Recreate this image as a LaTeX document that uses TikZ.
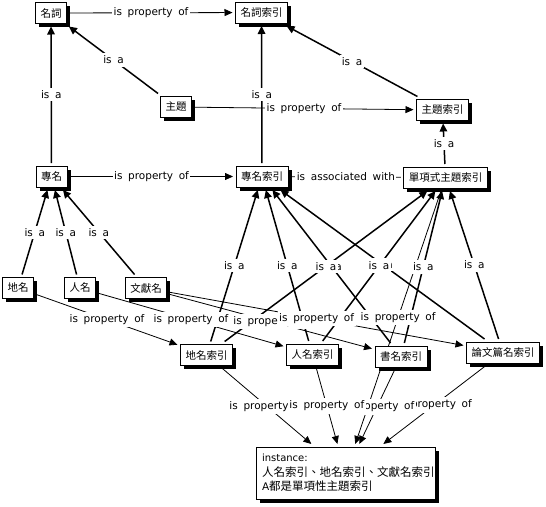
\documentclass[tikz,border=0pt]{standalone}
\usepackage{fontspec}
\setmainfont{DejaVu Sans}[WordSpace=1.7]
\newfontfamily\cjk{Noto Sans CJK TC}
\usetikzlibrary{arrows.meta,shadows}
\pgfdeclarelayer{bg}
\pgfsetlayers{bg,main}
\tikzset{
  box/.style={draw=black, line width=0.8pt, fill=white,
    font=\cjk\fontsize{10.5}{12}\selectfont,
    inner xsep=5pt, inner ysep=0pt, minimum height=21pt, outer sep=3pt,
    drop shadow={shadow xshift=3.5pt, shadow yshift=-3.5pt, fill=black, opacity=1}},
  isa/.style={line width=1.5pt, -{Triangle[length=8pt,width=7.5pt]}},
  prop/.style={line width=0.8pt, -{Triangle[length=8pt,width=7pt]}},
  assoc/.style={line width=0.8pt},
  lbl/.style={fill=white, inner xsep=1.5pt, inner ysep=2.5pt,
    font=\fontsize{10.5}{12}\selectfont, text=black},
}
\newcommand\edgeconn[4][prop]{%
  \begin{pgfonlayer}{bg}\draw[#1] (#2) -- (#3);\end{pgfonlayer}%
  \path (#2) -- node[lbl]{#4} (#3);}
\begin{document}
\begin{tikzpicture}[x=1pt,y=-1pt]
\useasboundingbox (0,0) rectangle (546,506);
% nodes
\node[box] (mc)  at (51,13)      {名詞};
\node[box] (mci) at (261.5,12.5) {名詞索引};
\node[box] (zt)  at (176,107)    {主題};
\node[box] (zti) at (442.5,110)  {主題索引};
\node[box] (zm)  at (51.5,176.5) {專名};
\node[box] (zmi) at (262,176.5)  {專名索引};
\node[box] (dx)  at (445.5,177.5){單項式主題索引};
\node[box] (dm)  at (18,288)     {地名};
\node[box] (rm)  at (80,288)     {人名};
\node[box] (wx)  at (146,288)    {文獻名};
\node[box] (dmi) at (206.5,355)  {地名索引};
\node[box] (rmi) at (312.5,354.5){人名索引};
\node[box] (smi) at (401,356.5)  {書名索引};
\node[box] (lw)  at (503,352.5)  {論文篇名索引};
\node[box, font=\cjk\fontsize{11.5}{14.5}\selectfont, align=left,
      text width=167pt, inner xsep=6pt, minimum height=52pt] (inst) at (345.5,473)
  {{\rmfamily\fontsize{10}{14.5}\selectfont instance:}\\
   人名索引、地名索引、文獻名索引\\
   {\rmfamily\fontsize{10.5}{14.5}\selectfont A}都是單項性主題索引};
% connectors
\edgeconn[prop]{mc}{mci}{is property of}
\edgeconn[isa]{zt}{mc}{is a}
\edgeconn[isa]{zm}{mc}{is a}
\edgeconn[isa]{zmi}{mci}{is a}
\edgeconn[prop]{zt}{zti}{is property of}
\edgeconn[isa]{zti}{mci}{is a}
\edgeconn[isa]{dx}{zti}{is a}
\edgeconn[prop]{zm}{zmi}{is property of}
\edgeconn[assoc]{zmi}{dx}{is associated with}
\edgeconn[isa]{dm}{zm}{is a}
\edgeconn[isa]{rm}{zm}{is a}
\edgeconn[isa]{wx}{zm}{is a}
\edgeconn[isa]{dmi}{zmi}{is a}
\edgeconn[isa]{rmi}{zmi}{is a}
\edgeconn[isa]{smi}{zmi}{is a}
\edgeconn[isa]{lw}{zmi}{is a}
\edgeconn[isa]{dmi}{dx}{is a}
\edgeconn[isa]{rmi}{dx}{is a}
\edgeconn[isa]{smi}{dx}{is a}
\edgeconn[isa]{lw}{dx}{is a}
\edgeconn[prop]{dm}{dmi}{is property of}
\edgeconn[prop]{rm}{rmi}{is property of}
\edgeconn[prop]{wx}{smi}{is property of}
\edgeconn[prop]{wx}{lw}{is property of}
\edgeconn[prop]{dx}{inst}{is property of}
\edgeconn[prop]{dmi}{inst}{is property of}
\edgeconn[prop]{lw}{inst}{is property of}
\edgeconn[prop]{smi}{inst}{is property of}
\edgeconn[prop]{rmi}{inst}{is property of}
\end{tikzpicture}
\end{document}
